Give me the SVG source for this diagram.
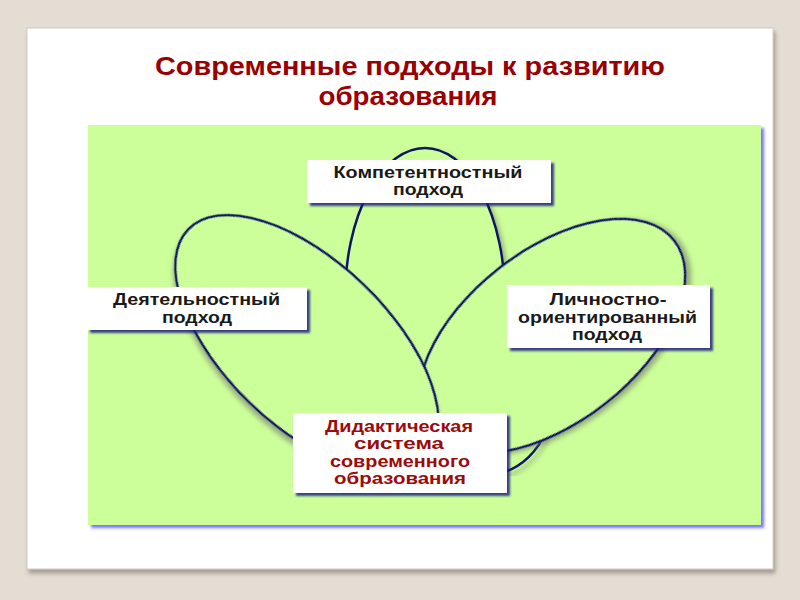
<svg xmlns="http://www.w3.org/2000/svg" width="800" height="600" viewBox="0 0 800 600">
<defs>
<filter id="slideShadow" x="-5%" y="-5%" width="110%" height="110%">
<feDropShadow dx="2" dy="4" stdDeviation="2" flood-color="#8a8276" flood-opacity="0.7"/>
</filter>
<filter id="greenShadow" x="-5%" y="-5%" width="110%" height="110%">
<feDropShadow dx="3" dy="3" stdDeviation="1.5" flood-color="#5555ff" flood-opacity="0.8"/>
</filter>
<filter id="petalShadow" x="-10%" y="-10%" width="120%" height="120%">
<feDropShadow dx="3" dy="4" stdDeviation="2.5" flood-color="#666" flood-opacity="0.55"/>
</filter>
<filter id="boxShadow" x="-10%" y="-20%" width="120%" height="140%">
<feDropShadow dx="3" dy="3" stdDeviation="1.2" flood-color="#1a1a80" flood-opacity="0.85"/>
</filter>
</defs>
<style>
.petal{fill:#ccff99;stroke:#0d1466;stroke-width:2.5;filter:url(#petalShadow)}
.box{fill:#ffffff;filter:url(#boxShadow)}
.lbl{font-family:"Liberation Sans",Arial,sans-serif;font-weight:bold;font-size:17px;fill:#1a1a1a;text-anchor:middle}
.red{fill:#9c0a0a}
.title{font-family:"Liberation Sans",Arial,sans-serif;font-weight:bold;font-size:26.5px;fill:#990000;text-anchor:middle}
</style>
<rect x="0" y="0" width="800" height="600" fill="#e3ddd3"/>
<rect x="27" y="28" width="746" height="541" fill="#ffffff" stroke="#d0ccc4" stroke-width="1" filter="url(#slideShadow)"/>
<text class="title" x="410" y="75" textLength="510" lengthAdjust="spacingAndGlyphs">Современные подходы к развитию</text>
<text class="title" x="408" y="105" textLength="179" lengthAdjust="spacingAndGlyphs">образования</text>
<rect x="88" y="125" width="673" height="400" fill="#ccff99" filter="url(#greenShadow)"/>
<g id="petals">
<ellipse class="petal" cx="425" cy="298" rx="80" ry="150"/>
<path d="M505 472 Q532 462 546 432" fill="none" stroke="#0d1466" stroke-width="2.5" filter="url(#petalShadow)"/>
<ellipse class="petal" cx="0" cy="0" rx="155" ry="86" transform="translate(552 336) rotate(-38)"/>
<ellipse class="petal" cx="0" cy="0" rx="165" ry="82" transform="translate(307 344) rotate(44)"/>
</g>
<g id="node-competence">
<rect class="box" x="307" y="160" width="244" height="43"/>
<text class="lbl" x="428" y="178" textLength="189" lengthAdjust="spacingAndGlyphs">Компетентностный</text>
<text class="lbl" x="428" y="195" textLength="70" lengthAdjust="spacingAndGlyphs">подход</text>
</g>
<g id="node-activity">
<rect class="box" x="87" y="287" width="220" height="43"/>
<text class="lbl" x="196.5" y="305" textLength="167" lengthAdjust="spacingAndGlyphs">Деятельностный</text>
<text class="lbl" x="197" y="322.5" textLength="70" lengthAdjust="spacingAndGlyphs">подход</text>
</g>
<g id="node-personal">
<rect class="box" x="507" y="285" width="203" height="63"/>
<text class="lbl" x="608" y="305" textLength="117" lengthAdjust="spacingAndGlyphs">Личностно-</text>
<text class="lbl" x="607.5" y="322.5" textLength="179" lengthAdjust="spacingAndGlyphs">ориентированный</text>
<text class="lbl" x="607" y="340" textLength="70" lengthAdjust="spacingAndGlyphs">подход</text>
</g>
<g id="node-didactic">
<rect class="box" x="293" y="413" width="214" height="80"/>
<text class="lbl red" x="399" y="432" textLength="148" lengthAdjust="spacingAndGlyphs">Дидактическая</text>
<text class="lbl red" x="399" y="449" textLength="90" lengthAdjust="spacingAndGlyphs">система</text>
<text class="lbl red" x="400" y="466.5" textLength="140" lengthAdjust="spacingAndGlyphs">современного</text>
<text class="lbl red" x="400" y="484" textLength="132" lengthAdjust="spacingAndGlyphs">образования</text>
</g>
</svg>
